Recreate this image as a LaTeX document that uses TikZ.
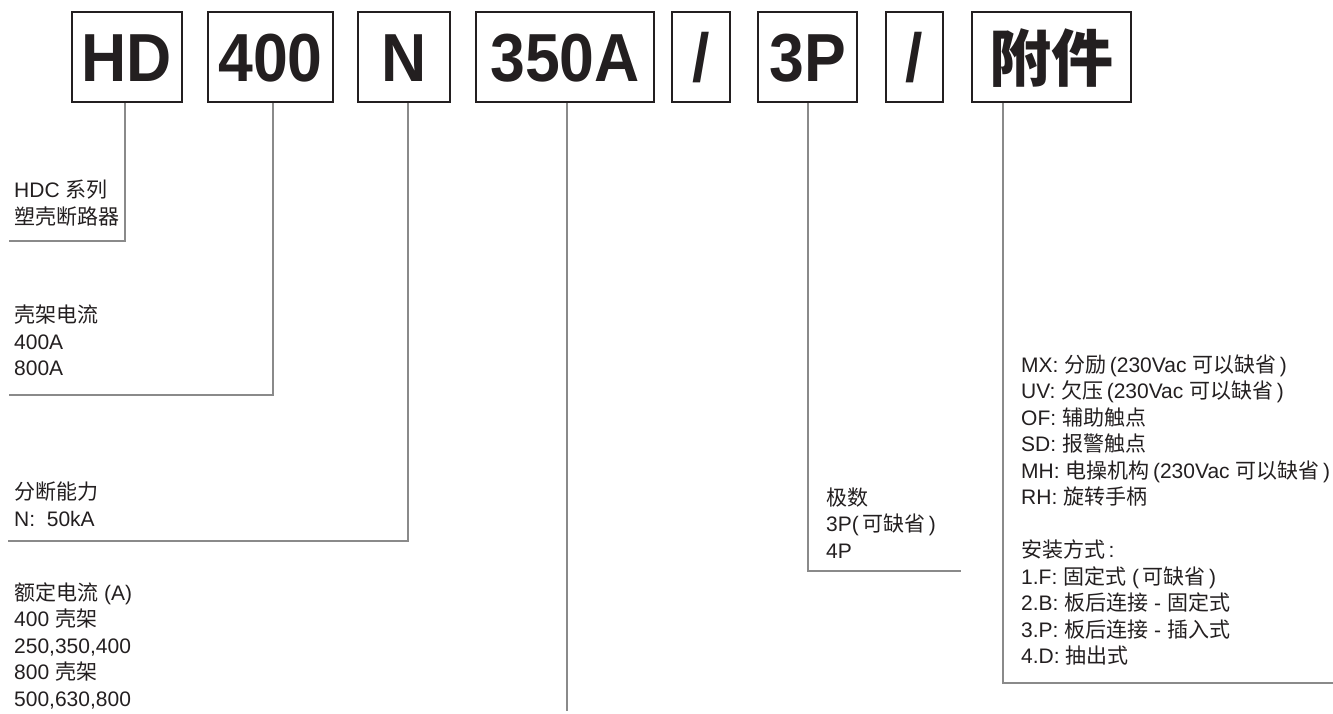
\documentclass[tikz,border=0pt]{standalone}
\usepackage{fontspec}
\setmainfont{Liberation Sans}
\newfontfamily\cjk{Noto Sans CJK SC}
\newfontfamily\bigsans[FakeStretch=0.92]{Liberation Sans}
\newcommand\zh[1]{{\cjk #1}}
\definecolor{ink}{HTML}{231F20}
\definecolor{leadgray}{HTML}{8A8A8A}
\begin{document}
\begin{tikzpicture}[x=1pt,y=-1pt,
  codebox/.style={draw=ink, line width=1.6pt, inner sep=0pt, minimum height=90pt,
    text height=48pt, text depth=0pt, text=ink,
    font=\bigsans\fontsize{68}{68}\selectfont\bfseries},
  lead/.style={draw=leadgray, line width=1.3pt},
  desc/.style={anchor=base west, inner sep=0pt, text=ink,
    font=\fontsize{21}{26.5}\selectfont}]
\useasboundingbox (0,0) rectangle (1333,713);

% code boxes
\node[codebox, minimum width=110pt] (hd) at (127,57) {HD};
\node[codebox, minimum width=125pt] (fr) at (270.5,57) {400};
\node[codebox, minimum width=92pt] (nn) at (404,57) {N};
\node[codebox, minimum width=178pt] (am) at (565,57) {350A};
\node[codebox, minimum width=58pt] (s1) at (701,57) {/};
\node[codebox, minimum width=99pt] (p3) at (807.5,57) {3P};
\node[codebox, minimum width=57pt] (s2) at (914.5,57) {/};
\node[codebox, minimum width=159pt] (fj) at (1051.5,57) {\fontsize{62}{62}\cjk\bfseries 附件};

% descriptions
\node[desc] (dhd) at (14,197.5) {\begin{tabular}[t]{@{}l@{}}
HDC \zh{系列}\\
\zh{塑壳断路器}
\end{tabular}};
\node[desc] (dfr) at (14,322.5) {\begin{tabular}[t]{@{}l@{}}
\zh{壳架电流}\\
400A\\
800A
\end{tabular}};
\node[desc] (dnn) at (14,499.5) {\begin{tabular}[t]{@{}l@{}}
\zh{分断能力}\\
N:\ \ 50kA
\end{tabular}};
\node[desc] (dam) at (14,600) {\begin{tabular}[t]{@{}l@{}}
\zh{额定电流} (A)\\
400 \zh{壳架}\\
250,350,400\\
800 \zh{壳架}\\
500,630,800
\end{tabular}};
\node[desc] (dp3) at (826,505) {\begin{tabular}[t]{@{}l@{}}
\zh{极数}\\
3P(\,\zh{可缺省}\,)\\
4P
\end{tabular}};
\node[desc] (dfj) at (1021,372) {\begin{tabular}[t]{@{}l@{}}
MX: \zh{分励}\,(230Vac \zh{可以缺省}\,)\\
UV: \zh{欠压}\,(230Vac \zh{可以缺省}\,)\\
OF: \zh{辅助触点}\\
SD: \zh{报警触点}\\
MH: \zh{电操机构}\,(230Vac \zh{可以缺省}\,)\\
RH: \zh{旋转手柄}\\
\\
\zh{安装方式}\,:\\
1.F: \zh{固定式} (\,\zh{可缺省}\,)\\
2.B: \zh{板后连接} - \zh{固定式}\\
3.P: \zh{板后连接} - \zh{插入式}\\
4.D: \zh{抽出式}
\end{tabular}};

% connector ends
\coordinate (hdE) at (9,241);
\coordinate (frE) at (9,395);
\coordinate (nnE) at (8,541);
\coordinate (amE) at (567,711);
\coordinate (p3E) at (961,571);
\coordinate (fjE) at (1333,683);

\draw[lead] ([xshift=-2pt]hd.south) |- (hdE);
\draw[lead] ([xshift=2.5pt]fr.south) |- (frE);
\draw[lead] ([xshift=4pt]nn.south) |- (nnE);
\draw[lead] ([xshift=2pt]am.south) |- (amE);
\draw[lead] ([xshift=0.5pt]p3.south) |- (p3E);
\draw[lead] ([xshift=-48.5pt]fj.south) |- (fjE);
\end{tikzpicture}
\end{document}
